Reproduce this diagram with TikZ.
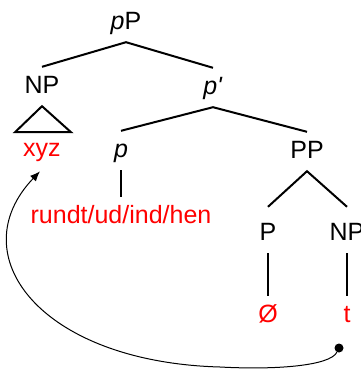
\documentclass[tikz,border=0pt]{standalone}
\usepackage{fontspec}
\setmainfont{Liberation Sans}
\usetikzlibrary{arrows.meta}

\tikzset{
  cat/.style={anchor=base, text height=18pt, text depth=5pt, inner sep=8pt,
    font=\fontsize{25}{30}\selectfont},
  word/.style={cat, text=red},
  branch/.style={line width=2pt},
}

\begin{document}
\begin{tikzpicture}[x=1pt,y=-1pt]
  \useasboundingbox (0,0) rectangle (360,375);
  % categories
  \node[cat] (pP) at (126,29) {\textit{p}P};
  \node[cat] (NP) at (42,93) {NP};
  \node[cat] (pbar) at (213,94) {\textit{p\textquotesingle}};
  \node[cat] (p) at (121,157) {\textit{p}};
  \node[cat] (PP) at (307,158) {PP};
  \node[cat] (P) at (268,240) {P};
  \node[cat] (NPt) at (347,240) {NP};
  % words
  \node[word] (xyz) at (42,156) {xyz};
  \node[word] (rundt) at (121,223) {rundt/ud/ind/hen};
  \node[word] (null) at (268,322) {Ø};
  \node[word] (t) at (347,322) {t};
  % branches
  \draw[branch] (NP.north) -- (pP.south) -- (pbar.north);
  \draw[branch] (p.north) -- (pbar.south) -- (PP.north);
  \draw[branch] ([yshift=7pt]P.north) -- (PP.south) -- ([yshift=7pt]NPt.north);
  \draw[branch] (NP.south) -- ++(-27,26) -- ++(56,0) -- cycle;
  \draw[branch] (p.south) -- (rundt.north);
  \draw[branch] (P.south) -- (null.north);
  \draw[branch] (NPt.south) -- (t.north);
  % movement
  \node[circle, fill, inner sep=0pt, minimum size=9pt] (trace) at (339,348) {};
  \draw[line width=1pt, -{Latex[length=10pt,width=8pt]}, shorten >=3pt]
    (trace) .. controls (330,366) and (275,370) .. (220,367)
    .. controls (40,362) and (-40,255) .. (xyz.south);
\end{tikzpicture}
\end{document}
